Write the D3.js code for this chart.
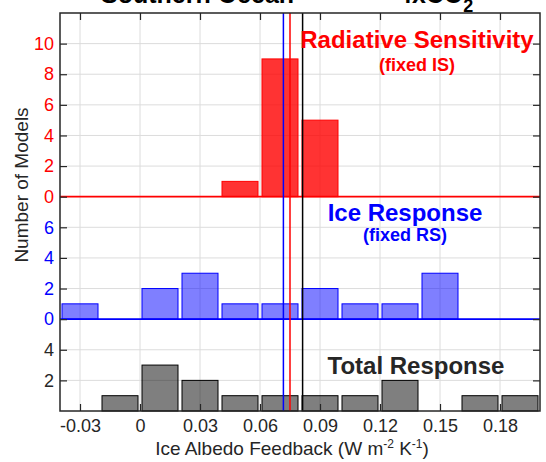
<!DOCTYPE html>
<html>
<head>
<meta charset="utf-8">
<script src="https://cdn.jsdelivr.net/npm/d3@7/dist/d3.min.js"></script>
<style>
body { margin: 0; background: #fff; }
text { font-family: Arial, "Liberation Sans", Helvetica, sans-serif; }
</style>
</head>
<body>
<div id="chart"></div>
<script>
// histogram bin centres (W m-2 K-1), bins are 0.02 wide
var binCenters = [-0.03, -0.01, 0.01, 0.03, 0.05, 0.07, 0.09, 0.11, 0.13, 0.15, 0.17, 0.19];
// number of models in each bin
var radiativeCounts = [0, 0, 0, 0, 1, 9, 5, 0, 0, 0, 0, 0];
var iceCounts       = [1, 0, 2, 3, 1, 1, 2, 1, 1, 3, 0, 0];
var totalCounts     = [0, 1, 3, 2, 1, 1, 1, 1, 2, 0, 1, 1];
// multi-model means (vertical lines)
var meanIce = 0.0717, meanRadiative = 0.075, meanTotal = 0.0813;
// tick values
var xTicks = [-0.03, 0, 0.03, 0.06, 0.09, 0.12, 0.15, 0.18];
var redTicks = [0, 2, 4, 6, 8, 10];
var blueTicks = [0, 2, 4, 6];
var grayTicks = [2, 4];

// set the dimensions and margins of the graph
var margin = {top: 13, right: 6, bottom: 51, left: 60},
    svgWidth = 546, svgHeight = 462,
    width = svgWidth - margin.left - margin.right,
    height = svgHeight - margin.top - margin.bottom;

var svg = d3.select('#chart')
    .append('svg')
    .attr('width', svgWidth)
    .attr('height', svgHeight);
var chartGroup = svg.append('g')
    .attr('transform', `translate(${margin.left}, ${margin.top})`);

var binWidth = 0.02, barFrac = 0.9;

// x scale
var x = d3.scaleLinear().domain([-0.04, 0.2]).range([0, width]);
// the three panels are stacked on one axis: total 0-6, ice 6-14, radiative 14-26
var yGray = d3.scaleLinear().domain([0, 26]).range([height, 0]);
var yBlue = d3.scaleLinear().domain([-6, 20]).range([height, 0]);
var yRed = d3.scaleLinear().domain([-14, 12]).range([height, 0]);

var panels = [
    {counts: totalCounts, y: yGray, ticks: grayTicks, fill: 'rgba(0,0,0,0.5)', stroke: '#000', text: '#262626', base: false},
    {counts: iceCounts, y: yBlue, ticks: blueTicks, fill: 'rgba(0,0,255,0.5)', stroke: '#0000ff', text: '#0000ff', base: true},
    {counts: radiativeCounts, y: yRed, ticks: redTicks, fill: 'rgba(255,0,0,0.8)', stroke: '#ff0000', text: '#ff0000', base: true}
];

// grid lines
var grid = chartGroup.append('g').attr('stroke', '#dcdcdc').attr('stroke-width', 1);
xTicks.forEach(function(t) {
    grid.append('line')
        .attr('x1', x(t)).attr('x2', x(t))
        .attr('y1', 0).attr('y2', height);
});
panels.forEach(function(p) {
    p.ticks.forEach(function(t) {
        grid.append('line')
            .attr('x1', 0).attr('x2', width)
            .attr('y1', p.y(t)).attr('y2', p.y(t));
    });
});

// bars
panels.forEach(function(p) {
    var data = binCenters.map(function(c, i) { return {c: c, n: p.counts[i]}; })
        .filter(function(d) { return d.n > 0; });
    chartGroup.append('g').selectAll('rect')
        .data(data)
        .enter()
        .append('rect')
        .attr('x', d => x(d.c - binWidth * barFrac / 2))
        .attr('width', x(binWidth * barFrac) - x(0))
        .attr('y', d => p.y(d.n))
        .attr('height', d => p.y(0) - p.y(d.n))
        .attr('fill', p.fill)
        .attr('stroke', p.stroke)
        .attr('stroke-width', 1);
    // zero line of the panel
    if (p.base) {
        chartGroup.append('line')
            .attr('x1', 0).attr('x2', width)
            .attr('y1', p.y(0)).attr('y2', p.y(0))
            .attr('stroke', p.stroke)
            .attr('stroke-width', 1.8);
    }
});

// mean lines
[[meanIce, '#0000ff'], [meanRadiative, '#ff0000'], [meanTotal, '#000']].forEach(function(m) {
    chartGroup.append('line')
        .attr('x1', x(m[0])).attr('x2', x(m[0]))
        .attr('y1', 0).attr('y2', height)
        .attr('stroke', m[1])
        .attr('stroke-width', 1.5);
});

// y axes, one per panel
panels.forEach(function(p) {
    var left = chartGroup.append('g')
        .call(d3.axisLeft(p.y).tickValues(p.ticks).tickSizeInner(-7).tickSizeOuter(0).tickPadding(6));
    left.select('.domain').remove();
    left.selectAll('line').attr('stroke', '#262626').attr('stroke-width', 1.2);
    left.selectAll('text')
        .attr('fill', p.text)
        .attr('font-size', '18px')
        .style('font-family', 'Arial, "Liberation Sans", sans-serif');

    var right = chartGroup.append('g')
        .attr('transform', `translate(${width}, 0)`)
        .call(d3.axisRight(p.y).tickValues(p.ticks).tickSizeInner(-7).tickSizeOuter(0).tickFormat(''));
    right.select('.domain').remove();
    right.selectAll('line').attr('stroke', '#262626').attr('stroke-width', 1.2);
});

// x axes
var xAxis = chartGroup.append('g')
    .attr('transform', `translate(0, ${height})`)
    .call(d3.axisBottom(x).tickValues(xTicks).tickSizeInner(-7).tickSizeOuter(0).tickPadding(8)
        .tickFormat(d => d === 0 ? '0' : d.toFixed(2)));
xAxis.select('.domain').remove();
xAxis.selectAll('line').attr('stroke', '#262626').attr('stroke-width', 1.2);
xAxis.selectAll('text')
    .attr('fill', '#262626')
    .attr('font-size', '18px')
    .style('font-family', 'Arial, "Liberation Sans", sans-serif');

var topAxis = chartGroup.append('g')
    .call(d3.axisTop(x).tickValues(xTicks).tickSizeInner(-7).tickSizeOuter(0).tickFormat(''));
topAxis.select('.domain').remove();
topAxis.selectAll('line').attr('stroke', '#262626').attr('stroke-width', 1.2);

// box
chartGroup.append('rect')
    .attr('width', width)
    .attr('height', height)
    .attr('fill', 'none')
    .attr('stroke', '#262626')
    .attr('stroke-width', 1.5);

// axis labels
var xLabel = chartGroup.append('text')
    .attr('x', width / 2 - 8)
    .attr('y', height + 44)
    .attr('text-anchor', 'middle')
    .attr('font-size', '19px')
    .attr('fill', '#262626');
xLabel.append('tspan').text('Ice Albedo Feedback (W m');
xLabel.append('tspan').attr('font-size', '12px').attr('dy', -7).text('-2');
xLabel.append('tspan').attr('dy', 7).text(' K');
xLabel.append('tspan').attr('font-size', '12px').attr('dy', -7).text('-1');
xLabel.append('tspan').attr('dy', 7).text(')');

svg.append('text')
    .attr('transform', `translate(28, ${margin.top + 172}) rotate(-90)`)
    .attr('text-anchor', 'middle')
    .attr('font-size', '19px')
    .attr('fill', '#262626')
    .text('Number of Models');

// panel titles
var labels = [
    {t: 'Radiative Sensitivity', x: 417, y: 48, size: 24, color: '#ff0000'},
    {t: '(fixed IS)', x: 417, y: 71, size: 18, color: '#ff0000'},
    {t: 'Ice Response', x: 405, y: 221, size: 24, color: '#0000ff'},
    {t: '(fixed RS)', x: 405, y: 241, size: 18, color: '#0000ff'},
    {t: 'Total Response', x: 416, y: 374, size: 24, color: '#262626'}
];
svg.selectAll('.panelLabel')
    .data(labels)
    .enter()
    .append('text')
    .classed('panelLabel', true)
    .attr('x', d => d.x)
    .attr('y', d => d.y)
    .attr('text-anchor', 'middle')
    .attr('font-weight', 'bold')
    .attr('font-size', d => d.size + 'px')
    .attr('fill', d => d.color)
    .text(d => d.t);

// title (mostly cut off at the top of the figure)
var title = svg.append('text')
    .attr('y', 3)
    .attr('font-weight', 'bold')
    .attr('font-size', '25px')
    .attr('fill', '#000');
title.append('tspan').attr('x', 101).text('Southern Ocean');
title.append('tspan').attr('x', 330).text('\u2014');
title.append('tspan').attr('x', 398).text('4xCO');
title.append('tspan').attr('font-size', '18px').attr('dy', 9).text('2');
</script>
</body>
</html>
